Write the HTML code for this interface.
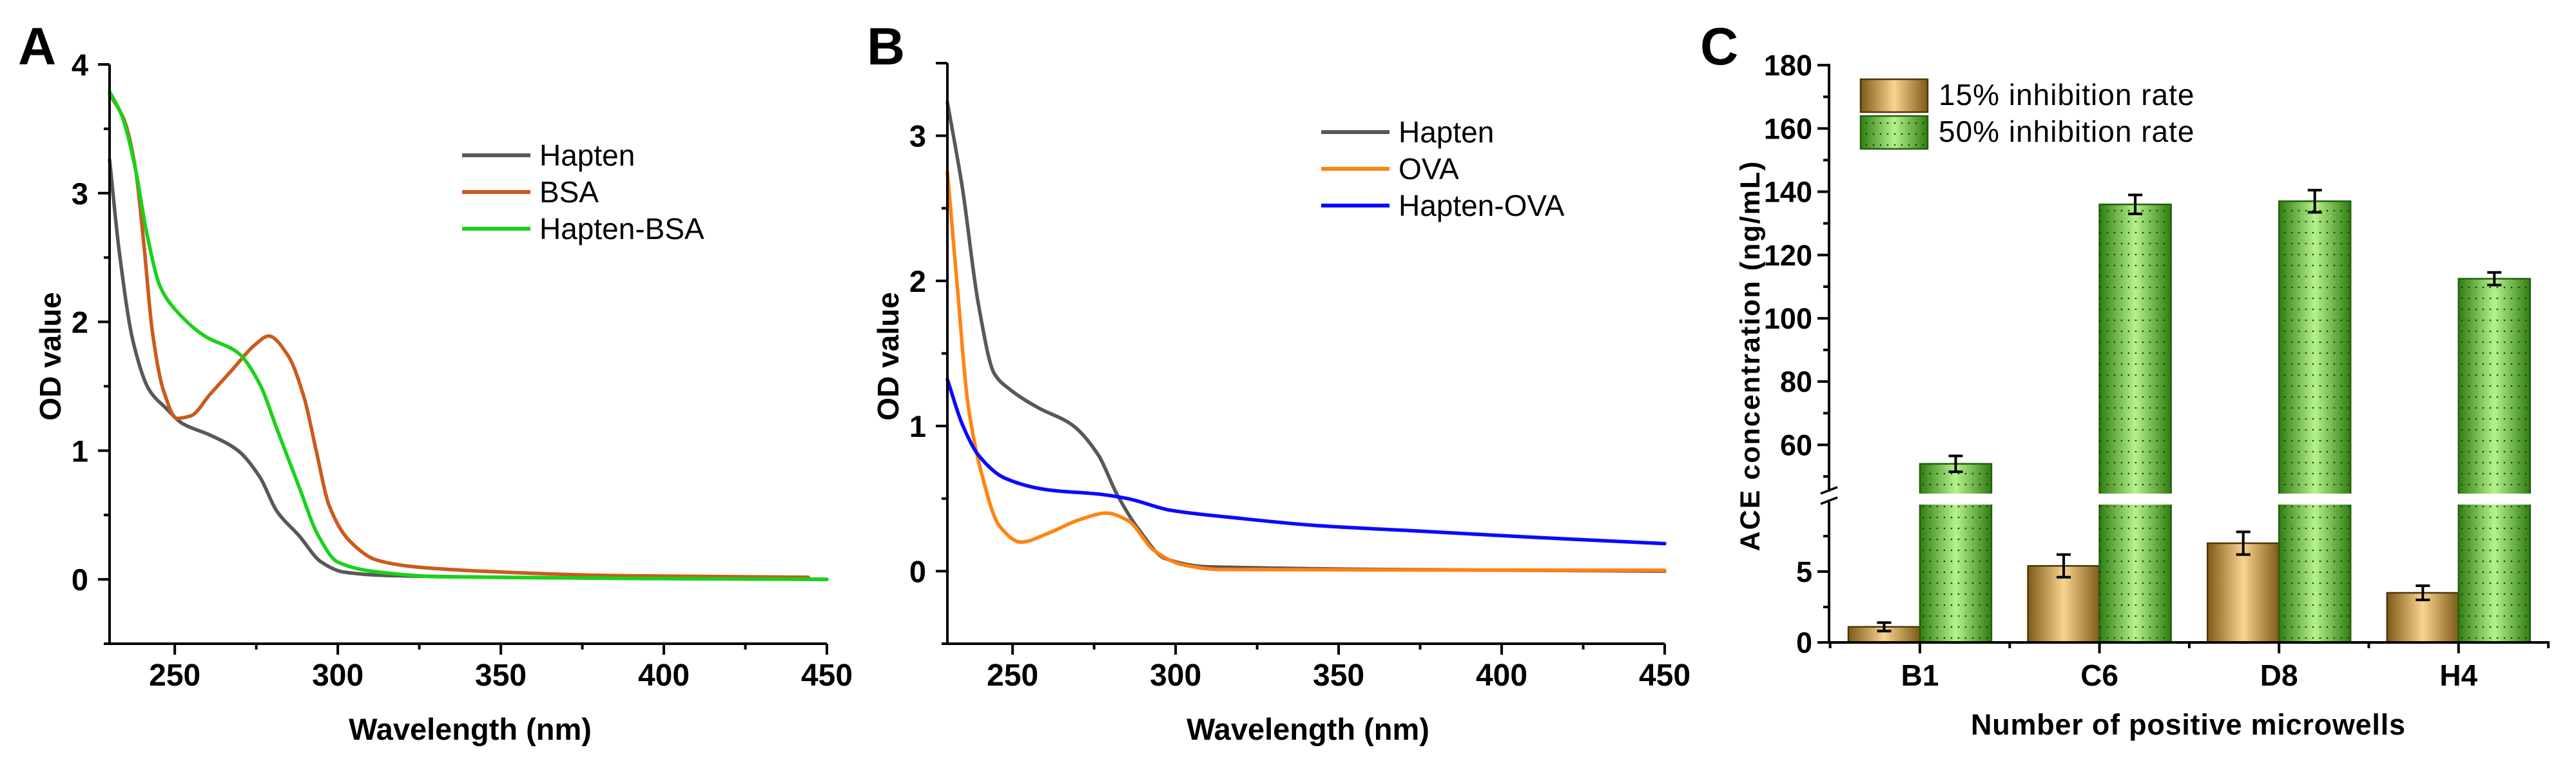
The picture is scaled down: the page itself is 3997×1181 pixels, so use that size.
<!DOCTYPE html>
<html><head><meta charset="utf-8">
<style>
html,body{margin:0;padding:0;background:#fff;}
svg{display:block;font-family:"Liberation Sans",Arial,sans-serif;}
</style></head>
<body>
<svg id="fig" width="3997" height="1181" viewBox="0 0 3997 1181" xmlns="http://www.w3.org/2000/svg">
<defs>
<linearGradient id="gBrown" x1="0" x2="1" y1="0" y2="0">
<stop offset="0" stop-color="#7e5a18"/><stop offset="0.5" stop-color="#f8d48e"/><stop offset="1" stop-color="#7e5a18"/></linearGradient>
<linearGradient id="gGreen" x1="0" x2="1" y1="0" y2="0">
<stop offset="0" stop-color="#2f7d12"/><stop offset="0.5" stop-color="#b6f28c"/><stop offset="1" stop-color="#2f7d12"/></linearGradient>
<pattern id="dots" width="11" height="17" patternUnits="userSpaceOnUse">
<circle cx="3" cy="4" r="1.3" fill="#1d3d0a"/></pattern>
</defs>
<g id="panelA"></g>
<g id="panelB"></g>
<g id="panelC"></g>
</svg>
<script>
// ---------- Panel A data ----------
const aHaptenX=[230,233,237.2,242.2,247.3,252.4,260.9,269.4,276.2,281.3,288.1,294.9,301.7,315.3,366,450];
const aHaptenY=[3.26,2.54,1.85,1.47,1.33,1.21,1.12,1.0,0.79,0.53,0.34,0.135,0.057,0.03,0.012,0.0];
const aBsaX=[230,234.6,238,240.5,243.1,246.5,250.7,254.9,260.9,267.7,274.5,278.8,284.7,289.8,293.2,297.4,303.4,311.9,323.8,349.2,383.2,444.3];
const aBsaY=[3.77,3.56,3.18,2.61,1.93,1.47,1.25,1.27,1.44,1.63,1.82,1.89,1.74,1.40,1.02,0.57,0.305,0.15,0.097,0.058,0.03,0.016];
const aConjX=[230,233.8,238,241.4,245.6,250.7,259.2,269.4,276.2,281.3,288.1,294,300,311.9,332.2,450];
const aConjY=[3.79,3.6,3.18,2.69,2.27,2.08,1.89,1.76,1.51,1.17,0.72,0.34,0.134,0.058,0.02,0.0];
const aLegend=["Hapten","BSA","Hapten-BSA"];
const aYTicks=[0,1,2,3,4];
const xTicks=[250,300,350,400,450];
// ---------- Panel B data ----------
const bHaptenX=[230,234.6,239.5,244.4,249.3,257.5,268.1,276.3,282,288.6,296.8,310,450];
const bHaptenY=[3.23,2.64,1.84,1.36,1.25,1.13,1.01,0.8,0.53,0.29,0.087,0.03,0.0];
const bOvaX=[230,233,236.2,240.3,246,252.6,260.8,270.6,278.8,285.3,293.5,301.7,313,450];
const bOvaY=[2.75,1.97,1.17,0.69,0.31,0.2,0.26,0.355,0.4,0.35,0.14,0.047,0.012,0.006];
const bConjX=[230,234.6,239.5,247.7,260.8,277.1,285.3,298.4,318,342.7,375.4,408,450];
const bConjY=[1.32,1.01,0.8,0.64,0.56,0.529,0.5,0.42,0.368,0.315,0.275,0.235,0.19];
const bLegend=["Hapten","OVA","Hapten-OVA"];
const bYTicks=[0,1,2,3];
// ---------- Panel C data ----------
const cCats=["B1","C6","D8","H4"];
const c15=[1.1,5.4,7.0,3.5];
const c15err=[0.3,0.8,0.8,0.5];
const c50=[54,136,137,112.5];
const c50err=[2.5,3,3.5,2];
const cLegend=["15% inhibition rate","50% inhibition rate"];
const cLowTicks=[0,5];
const cHighTicks=[60,80,100,120,140,160,180];

const NS="http://www.w3.org/2000/svg";
function mk(parent,tag,attrs,text){
  const e=document.createElementNS(NS,tag);
  for(const k in attrs)e.setAttribute(k,attrs[k]);
  if(text!==undefined)e.textContent=text;
  parent.appendChild(e);return e;
}
// monotone cubic (Fritsch-Carlson) in x
function smoothPath(pts){
  const n=pts.length;
  const dx=[],m=[];
  for(let i=0;i<n-1;i++){dx[i]=pts[i+1][0]-pts[i][0];m[i]=(pts[i+1][1]-pts[i][1])/dx[i];}
  const t=[m[0]];
  for(let i=1;i<n-1;i++){
    if(m[i-1]*m[i]<=0)t[i]=0;
    else{const w1=2*dx[i]+dx[i-1],w2=dx[i]+2*dx[i-1];t[i]=(w1+w2)/(w1/m[i-1]+w2/m[i]);}
  }
  t[n-1]=m[n-2];
  let d='M'+pts[0][0].toFixed(1)+','+pts[0][1].toFixed(1);
  for(let i=0;i<n-1;i++){
    const h=dx[i]/3;
    d+='C'+(pts[i][0]+h).toFixed(1)+','+(pts[i][1]+t[i]*h).toFixed(1)+' '+(pts[i+1][0]-h).toFixed(1)+','+(pts[i+1][1]-t[i+1]*h).toFixed(1)+' '+pts[i+1][0].toFixed(1)+','+pts[i+1][1].toFixed(1);
  }
  return d;
}
function linePanel(g,cfg){
  const sx=v=>cfg.x0+(v-230)*(cfg.x1-cfg.x0)/220;
  const sy=v=>cfg.yb-(v-cfg.ymin)*(cfg.yb-cfg.yt)/(cfg.ymax-cfg.ymin);
  const L=mk(g,'text',{x:cfg.lx,y:cfg.ly,'font-size':82,'font-weight':'bold'},cfg.letter);
  
  
  cfg.series.forEach((s,i)=>{
    const pts=s.x.map((xv,j)=>[sx(xv),sy(s.y[j])]);
    const p=mk(g,'path',{d:smoothPath(pts),fill:'none',stroke:s.c,'stroke-width':5.5,'stroke-linejoin':'round','stroke-linecap':'round'});
    
    
    const ly=cfg.legY+i*57;
    const ll=mk(g,'line',{x1:cfg.legX,x2:cfg.legX+106,y1:ly,y2:ly,stroke:s.c,'stroke-width':6});
    
    
    const lt=mk(g,'text',{x:cfg.legX+120,y:ly+16,'font-size':46},cfg.legend[i]);
    
    
  });
  const ax=mk(g,'path',{d:`M${cfg.x0},${cfg.yt} V${cfg.yb} H${cfg.x1}`,fill:'none',stroke:'#000','stroke-width':4});
  
  
  mk(g,'line',{x1:cfg.x0-18,x2:cfg.x0,y1:cfg.yt,y2:cfg.yt,stroke:'#000','stroke-width':4});
  for(let v=cfg.ymin;v<=cfg.ymax+1e-9;v+=0.5){
    const isMaj=Math.abs(v-Math.round(v))<1e-9 && cfg.yTicks.includes(Math.round(v));
    mk(g,'line',{x1:cfg.x0-(isMaj?18:9),x2:cfg.x0,y1:sy(v),y2:sy(v),stroke:'#000','stroke-width':4});
  }
  cfg.yTicks.forEach(v=>{
    const t=mk(g,'text',{x:cfg.x0-33,y:sy(v)+17,'font-size':47,'font-weight':'bold','text-anchor':'end'},String(v));
    
    
  });
  for(let v=250;v<=450;v+=25){
    const maj=v%50===0;
    mk(g,'line',{x1:sx(v),x2:sx(v),y1:cfg.yb,y2:cfg.yb+(maj?17:9),stroke:'#000','stroke-width':4});
  }
  xTicks.forEach(v=>{
    const t=mk(g,'text',{x:sx(v),y:1064,'font-size':48,'font-weight':'bold','text-anchor':'middle'},String(v));
    
    
  });
  const xt=mk(g,'text',{x:(cfg.x0+cfg.x1)/2+3,y:1148,'font-size':47,'font-weight':'bold','text-anchor':'middle'},'Wavelength (nm)');
  
  
  const yt=mk(g,'text',{x:0,y:0,'font-size':46,'font-weight':'bold','text-anchor':'middle',transform:`translate(${cfg.x0-76},553) rotate(-90)`},'OD value');
  
  
}
linePanel(document.getElementById('panelA'),{letter:'A',lx:28,ly:100,x0:170,x1:1283,yt:100,yb:999,ymin:-0.5,ymax:4,yTicks:aYTicks,
  legX:717,legY:241,legend:aLegend,
  series:[{n:'hapten',x:aHaptenX,y:aHaptenY,c:'#585858'},{n:'bsa',x:aBsaX,y:aBsaY,c:'#cc5a1c'},{n:'hapten-bsa',x:aConjX,y:aConjY,c:'#19d219'}]});
linePanel(document.getElementById('panelB'),{letter:'B',lx:1345,ly:100,x0:1470,x1:2583,yt:98,yb:999,ymin:-0.5,ymax:3.5,yTicks:bYTicks,
  legX:2050,legY:205,legend:bLegend,
  series:[{n:'hapten',x:bHaptenX,y:bHaptenY,c:'#585858'},{n:'ova',x:bOvaX,y:bOvaY,c:'#ff8410'},{n:'hapten-ova',x:bConjX,y:bConjY,c:'#0a0aff'}]});

// ---------- Panel C ----------
(function(){
  const g=document.getElementById('panelC');
  const X0=2838, X1=3956, YB=997;
  const catX=i=>2979+i*278.6;
  const yC=v=>v<=10 ? YB-v*22 : 764-(v-45)*4.91;
  const BW=111;
  const L=mk(g,'text',{x:2638,y:100,'font-size':82,'font-weight':'bold'},'C');
  
  
  cCats.forEach((c,i)=>{
    const cx=catX(i);
    const y1=yC(c15[i]);
    const b1=mk(g,'rect',{x:cx-BW,y:y1,width:BW,height:YB-y1,fill:'url(#gBrown)',stroke:'#4d3608','stroke-width':2.5});
    
    
    const y2=yC(c50[i]);
    const b2=mk(g,'rect',{x:cx,y:y2,width:BW,height:YB-y2,fill:'url(#gGreen)',stroke:'#245e0c','stroke-width':2.5});
    
    
    mk(g,'rect',{x:cx,y:y2,width:BW,height:YB-y2,fill:'url(#dots)'});
    if(c50[i]>10) mk(g,'rect',{x:cx-3,y:766,width:BW+6,height:17,fill:'#fff'});
    [[cx-BW/2,c15[i],c15err[i]],[cx+BW/2,c50[i],c50err[i]]].forEach(([ex,v,e])=>{
      const top=yC(v+e),bot=yC(v-e);
      const eb=mk(g,'path',{d:`M${ex-11},${top}H${ex+11}M${ex},${top}V${bot}M${ex-11},${bot}H${ex+11}`,stroke:'#000','stroke-width':4,fill:'none'});
      
      
    });
    const t=mk(g,'text',{x:cx,y:1064,'font-size':46,'font-weight':'bold','text-anchor':'middle'},c);
    
    
  });
  const ax=mk(g,'path',{d:`M${X0},99 V763 M${X0},779 V${YB} H${X1}`,fill:'none',stroke:'#000','stroke-width':4});
  
  
  mk(g,'path',{d:`M${X0-13},766 L${X0+13},756 M${X0-13},782 L${X0+13},772`,stroke:'#000','stroke-width':3.5,fill:'none'});
  cHighTicks.forEach(v=>{
    mk(g,'line',{x1:X0-18,x2:X0,y1:yC(v),y2:yC(v),stroke:'#000','stroke-width':4});
    mk(g,'line',{x1:X0-9,x2:X0,y1:yC(v-10),y2:yC(v-10),stroke:'#000','stroke-width':4});
    const t=mk(g,'text',{x:2812,y:yC(v)+16,'font-size':45,'font-weight':'bold','text-anchor':'end'},String(v));
    
    
  });
  cLowTicks.forEach(v=>{
    mk(g,'line',{x1:X0-18,x2:X0,y1:yC(v),y2:yC(v),stroke:'#000','stroke-width':4});
    mk(g,'line',{x1:X0-9,x2:X0,y1:yC(v+2.5),y2:yC(v+2.5),stroke:'#000','stroke-width':4});
    const t=mk(g,'text',{x:2812,y:yC(v)+16,'font-size':45,'font-weight':'bold','text-anchor':'end'},String(v));
    
    
  });
  for(let i=0;i<=cCats.length;i++){
    const tx=catX(i)-139.3;
    if(tx>X0) mk(g,'line',{x1:tx,x2:tx,y1:YB,y2:YB+9,stroke:'#000','stroke-width':4});
    if(i<cCats.length) mk(g,'line',{x1:catX(i),x2:catX(i),y1:YB,y2:YB+17,stroke:'#000','stroke-width':4});
  }
  const xt=mk(g,'text',{x:3395,y:1140,'font-size':45,'font-weight':'bold','text-anchor':'middle',textLength:674},'Number of positive microwells');
  
  
  const yt=mk(g,'text',{x:0,y:0,'font-size':43,'font-weight':'bold','text-anchor':'middle',textLength:605,transform:'translate(2730,553) rotate(-90)'},'ACE concentration (ng/mL)');
  
  
  const fills=['url(#gBrown)','url(#gGreen)'];
  const strokes=['#4d3608','#245e0c'];
  cLegend.forEach((s,i)=>{
    const y=123+i*57;
    const sw=mk(g,'rect',{x:2887,y:y,width:104,height:51,fill:fills[i],stroke:strokes[i],'stroke-width':2.5});
    
    
    if(i===1) mk(g,'rect',{x:2887,y:y,width:104,height:51,fill:'url(#dots)'});
    const t=mk(g,'text',{x:3008,y:y+40,'font-size':46,'letter-spacing':1},s);
    
    
  });
})();
</script>
</body></html>
